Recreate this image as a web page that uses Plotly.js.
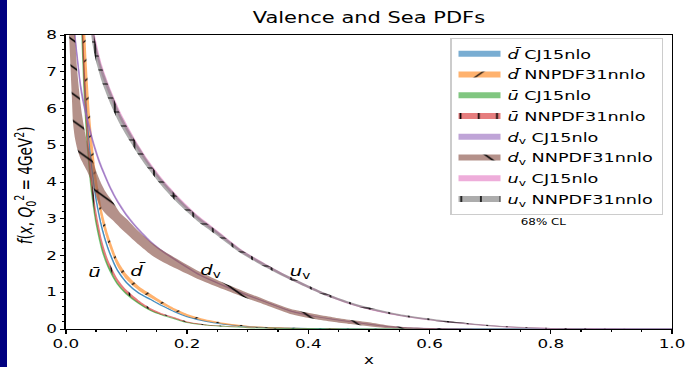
<!DOCTYPE html>
<html><head><meta charset="utf-8">
<script src="https://cdn.plot.ly/plotly-3.0.1.min.js"></script>
<style>
html,body{margin:0;padding:0;background:#000080;width:687px;height:367px;overflow:hidden}
#wrap{position:absolute;left:7px;top:0;width:680px;height:367px;background:#fff;overflow:hidden}
#plot{position:absolute;left:0;top:0;width:486px;height:367px;transform:scaleX(1.4);transform-origin:0 0}
</style></head><body><div id="wrap"><div id="plot"></div></div>
<script>
// ---- data ----
const xSea = [0.02,0.025,0.03,0.035,0.04,0.045,0.05,0.06,0.07,0.085,0.1,0.12,0.14,0.16,0.18,0.2,0.23,0.26,0.3,0.35,0.4,0.5,0.6,0.8,1.0];
const dbarCJ_c = [12.6,9.27,7.2,5.85,4.86,4.14,3.56,2.75,2.2,1.62,1.28,0.99,0.81,0.63,0.47,0.34,0.215,0.135,0.068,0.032,0.014,0.003,0.001,0,0];
const dbarCJ_e = [0.19,0.14,0.11,0.09,0.07,0.06,0.05,0.04,0.033,0.025,0.02,0.016,0.013,0.01,0.008,0.006,0.004,0.003,0.002,0.001,0,0,0,0,0];
const dbarNN_c = [14.0,10.3,8.0,6.5,5.4,4.6,3.96,3.05,2.45,1.8,1.42,1.11,0.9,0.7,0.52,0.38,0.24,0.15,0.075,0.035,0.015,0.003,0.001,0,0];
const dbarNN_e = [2.1,1.34,0.88,0.58,0.43,0.32,0.24,0.16,0.12,0.09,0.075,0.06,0.05,0.04,0.035,0.03,0.025,0.02,0.015,0.01,0.008,0.004,0.002,0,0];
const ubarCJ_c = [12.4,9.0,6.65,5.2,4.18,3.47,2.93,2.18,1.71,1.25,0.97,0.71,0.51,0.38,0.28,0.18,0.11,0.075,0.038,0.017,0.007,0.001,0,0,0];
const ubarCJ_e = [0.25,0.18,0.13,0.1,0.08,0.07,0.06,0.045,0.035,0.025,0.02,0.015,0.012,0.009,0.007,0.005,0.003,0.002,0.001,0,0,0,0,0,0];
const ubarNN_c = [13.0,9.5,7.0,5.5,4.4,3.65,3.08,2.3,1.8,1.32,1.02,0.75,0.54,0.4,0.3,0.19,0.115,0.08,0.04,0.018,0.008,0.001,0,0,0];
const ubarNN_e = [1.0,0.65,0.45,0.32,0.24,0.19,0.15,0.1,0.075,0.055,0.045,0.035,0.028,0.022,0.018,0.014,0.01,0.008,0.005,0.003,0.002,0.001,0,0,0];

const xDv = [0.004,0.006,0.008,0.01,0.012,0.015,0.019,0.023,0.027,0.031,0.035,0.04,0.045,0.05,0.056,0.065,0.078,0.09,0.1,0.12,0.14,0.155,0.18,0.221,0.26,0.293,0.33,0.37,0.41,0.44,0.47,0.5,0.53,0.56,0.6,0.65,0.7,0.8,0.9,1.0];
const dvNN_lo = [8.6,7.8,7.05,6.3,5.6,5.2,4.9,4.69,4.55,4.42,4.3,4.1,3.87,3.6,3.35,3.15,2.95,2.75,2.6,2.3,2.03,1.87,1.66,1.34,1.08,0.87,0.65,0.41,0.275,0.2,0.135,0.075,0.025,0.005,0,0,0,0,0,0];
const dvNN_hi = [14,12,10.8,9.8,9.0,8.0,7.0,6.32,5.8,5.41,5.1,4.8,4.55,4.3,4.05,3.75,3.45,3.15,3.0,2.66,2.37,2.19,1.94,1.56,1.26,1.03,0.79,0.55,0.405,0.32,0.245,0.185,0.105,0.055,0.025,0.008,0.002,0,0,0];
const xDvCJ = [0.008,0.01,0.015,0.02,0.025,0.03,0.034,0.04,0.045,0.05,0.056,0.062,0.073,0.085,0.1,0.12,0.139,0.155,0.18,0.221,0.26,0.293,0.33,0.37,0.41,0.44,0.47,0.5,0.53,0.56,0.6,0.65,0.7,0.8,1.0];
const dvCJ_c = [11.5,10.2,8.1,7.3,6.6,6.15,5.85,5.45,5.12,4.85,4.55,4.3,3.88,3.5,3.12,2.72,2.4,2.18,1.9,1.48,1.19,0.97,0.74,0.5,0.35,0.27,0.2,0.13,0.07,0.035,0.015,0.005,0.002,0,0];
const dvCJ_e = [0.2,0.18,0.14,0.12,0.1,0.09,0.08,0.07,0.06,0.055,0.05,0.045,0.04,0.035,0.03,0.025,0.022,0.02,0.018,0.015,0.012,0.01,0.009,0.008,0.006,0.005,0.004,0.003,0.002,0.002,0.001,0,0,0,0];

const xUv = [0.03,0.035,0.04,0.044,0.05,0.06,0.075,0.09,0.106,0.12,0.136,0.16,0.19,0.22,0.25,0.29,0.33,0.37,0.43,0.485,0.55,0.63,0.72,0.8,0.9,1.0];
const uvNN_c = [10.0,9.1,8.5,8.0,7.5,6.9,6.25,5.7,5.23,4.85,4.46,3.95,3.42,2.97,2.6,2.1,1.72,1.38,0.93,0.62,0.38,0.2,0.07,0.02,0.003,0];
const uvNN_e = [0.3,0.28,0.26,0.25,0.23,0.2,0.18,0.15,0.13,0.12,0.1,0.09,0.08,0.07,0.06,0.05,0.045,0.04,0.035,0.03,0.025,0.02,0.015,0.01,0.005,0];
const uvCJ_c = [10.3,9.35,8.7,8.2,7.7,7.05,6.38,5.82,5.33,4.94,4.54,4.02,3.48,3.02,2.64,2.13,1.74,1.39,0.94,0.62,0.38,0.2,0.07,0.02,0.003,0];
const uvCJ_e = [0.2,0.18,0.16,0.15,0.14,0.12,0.1,0.09,0.08,0.07,0.06,0.055,0.05,0.045,0.04,0.035,0.03,0.025,0.02,0.018,0.015,0.012,0.01,0.006,0.003,0];

// tick labels
const xTickVals = [0,0.2,0.4,0.6,0.8,1.0];
const xTickText = ['0.0','0.2','0.4','0.6','0.8','1.0'];
const yTickVals = [0,1,2,3,4,5,6,7,8];
const yTickText = ['0','1','2','3','4','5','6','7','8'];

// text labels (each piece carries an explicit size)
function sz(s, px, italic){ return '<span style="' + (italic ? 'font-style:italic;' : '') + 'font-size:' + px + 'px">' + s + '</span>'; }
const LF = 12.6, AF = 14, TF = 12;
const seriesNames = [sz('d̄',LF,1)+' CJ15nlo', sz('d̄',LF,1)+' NNPDF31nnlo', sz('ū',LF,1)+' CJ15nlo', sz('ū',LF,1)+' NNPDF31nnlo',
  sz('d',LF,1)+'<sub>v</sub> CJ15nlo', sz('d',LF,1)+'<sub>v</sub> NNPDF31nnlo', sz('u',LF,1)+'<sub>v</sub> CJ15nlo', sz('u',LF,1)+'<sub>v</sub> NNPDF31nnlo'];
const curveLabels = [sz('ū',AF,1), sz('d̄',AF,1), sz('d',AF,1)+'<sub>v</sub>', sz('u',AF,1)+'<sub>v</sub>'];
const curveLabelX = [0.048,0.119,0.239,0.386];
const curveLabelY = [1.55,1.6,1.58,1.55];
const yTitle = '<i>f</i>(<i>x</i>, <i>Q</i><sub>0</sub><sup>2</sup> = 4GeV<sup>2</sup>)';

// ---- drawing ----
const traces = [];
const sp = {shape:'spline', smoothing:0.7};
function lowHigh(c, e){ return [c.map((v,i)=>v-e[i]), c.map((v,i)=>v+e[i])]; }
let grp = 0;
function addBand(x, lo, hi, name, fill, edgeColor, pattern){
  grp++;
  traces.push({x:x, y:lo, type:'scatter', mode:'lines', legendgroup:'g'+grp,
    line:Object.assign({width: edgeColor ? 1 : 0, color: edgeColor || fill}, sp),
    showlegend:false, hoverinfo:'skip'});
  const t = {x:x, y:hi, type:'scatter', mode:'none', legendgroup:'g'+grp, line:Object.assign({width:0, color:fill}, sp),
    fill:'tonexty', fillcolor:fill, name:name, hoverinfo:'skip'};
  if(pattern){ t.fillpattern = Object.assign({fgcolor:'black', bgcolor:fill, fgopacity:1}, pattern); }
  traces.push(t);
}
let lh;
lh = lowHigh(dbarCJ_c, dbarCJ_e);
addBand(xSea, lh[0], lh[1], seriesNames[0], 'rgba(31,119,180,0.6)', 'rgba(31,119,180,0.75)');
lh = lowHigh(dbarNN_c, dbarNN_e);
addBand(xSea, lh[0], lh[1], seriesNames[1], 'rgba(255,127,14,0.6)', null, {shape:'/', size:14, solidity:0.08});
lh = lowHigh(ubarCJ_c, ubarCJ_e);
addBand(xSea, lh[0], lh[1], seriesNames[2], 'rgba(44,160,44,0.6)', 'rgba(44,160,44,0.6)');
lh = lowHigh(ubarNN_c, ubarNN_e);
addBand(xSea, lh[0], lh[1], seriesNames[3], 'rgba(214,39,40,0.6)', null, {shape:'|', size:13, solidity:0.09});
lh = lowHigh(dvCJ_c, dvCJ_e);
addBand(xDvCJ, lh[0], lh[1], seriesNames[4], 'rgba(148,103,189,0.6)', 'rgba(148,103,189,0.75)');
addBand(xDv, dvNN_lo, dvNN_hi, seriesNames[5], 'rgba(140,86,75,0.65)', null, {shape:'\\', size:19, solidity:0.07});
lh = lowHigh(uvCJ_c, uvCJ_e);
addBand(xUv, lh[0], lh[1], seriesNames[6], 'rgba(227,119,194,0.6)', 'rgba(227,119,194,0.6)');
lh = lowHigh(uvNN_c, uvNN_e);
addBand(xUv, lh[0], lh[1], seriesNames[7], 'rgba(127,127,127,0.65)', null, {shape:'+', size:14, solidity:0.15});

const annotations = curveLabels.map((t,i)=>({x:curveLabelX[i], y:curveLabelY[i], xref:'x', yref:'y', text:t,
  showarrow:false, font:{size:AF, color:'black'}, xanchor:'center', yanchor:'middle'}));
annotations.push({x:0.789, y:0.364, xref:'paper', yref:'paper', text:sz('68% CL',8.5), showarrow:false,
  font:{size:8.5, color:'black'}, xanchor:'center', yanchor:'middle'});
annotations.push({x:-0.066, y:0.49, xref:'paper', yref:'paper', text:yTitle, textangle:-90, showarrow:false,
  font:{size:13.6, color:'black'}, xanchor:'center', yanchor:'middle'});

const axisCommon = {showgrid:false, zeroline:false, showline:true, linecolor:'black', linewidth:1, mirror:true,
  ticks:'outside', tickcolor:'black', tickwidth:1, tickfont:{size:TF, color:'black'}, tickmode:'array'};
const layout = {
  width:486, height:367,
  margin:{l:42, r:11, t:35, b:38, pad:0},
  paper_bgcolor:'white', plot_bgcolor:'white',
  font:{family:'DejaVu Sans, sans-serif', color:'black', size:12},
  title:{text:sz('Valence and Sea PDFs',15), font:{size:15, color:'black'}, x:0.5, xref:'paper', xanchor:'center',
    y:1-18/367, yref:'container', yanchor:'middle'},
  xaxis:Object.assign({}, axisCommon, {range:[0,1], tickvals:xTickVals, ticktext:xTickText.map(t=>sz(t,TF)), ticklen:4,
    minor:{dtick:0.05, tick0:0, ticks:'outside', ticklen:2, tickcolor:'black', showgrid:false},
    title:{text:sz('x',12), font:{size:12}}}),
  yaxis:Object.assign({}, axisCommon, {range:[0,8], tickvals:yTickVals, ticktext:yTickText.map(t=>sz(t,TF)), ticklen:3,
    minor:{dtick:0.2, tick0:0, ticks:'outside', ticklen:1.5, tickcolor:'black', showgrid:false}}),
  showlegend:true,
  legend:{x:0.985, y:0.99, xanchor:'right', yanchor:'top', bgcolor:'rgba(255,255,255,0.8)', traceorder:'grouped',
    bordercolor:'#cccccc', borderwidth:1, font:{size:LF, color:'black'}, itemwidth:30, tracegroupgap:1.4},
  annotations:annotations
};
Plotly.newPlot('plot', traces, layout, {staticPlot:true, displayModeBar:false});
</script></body></html>
